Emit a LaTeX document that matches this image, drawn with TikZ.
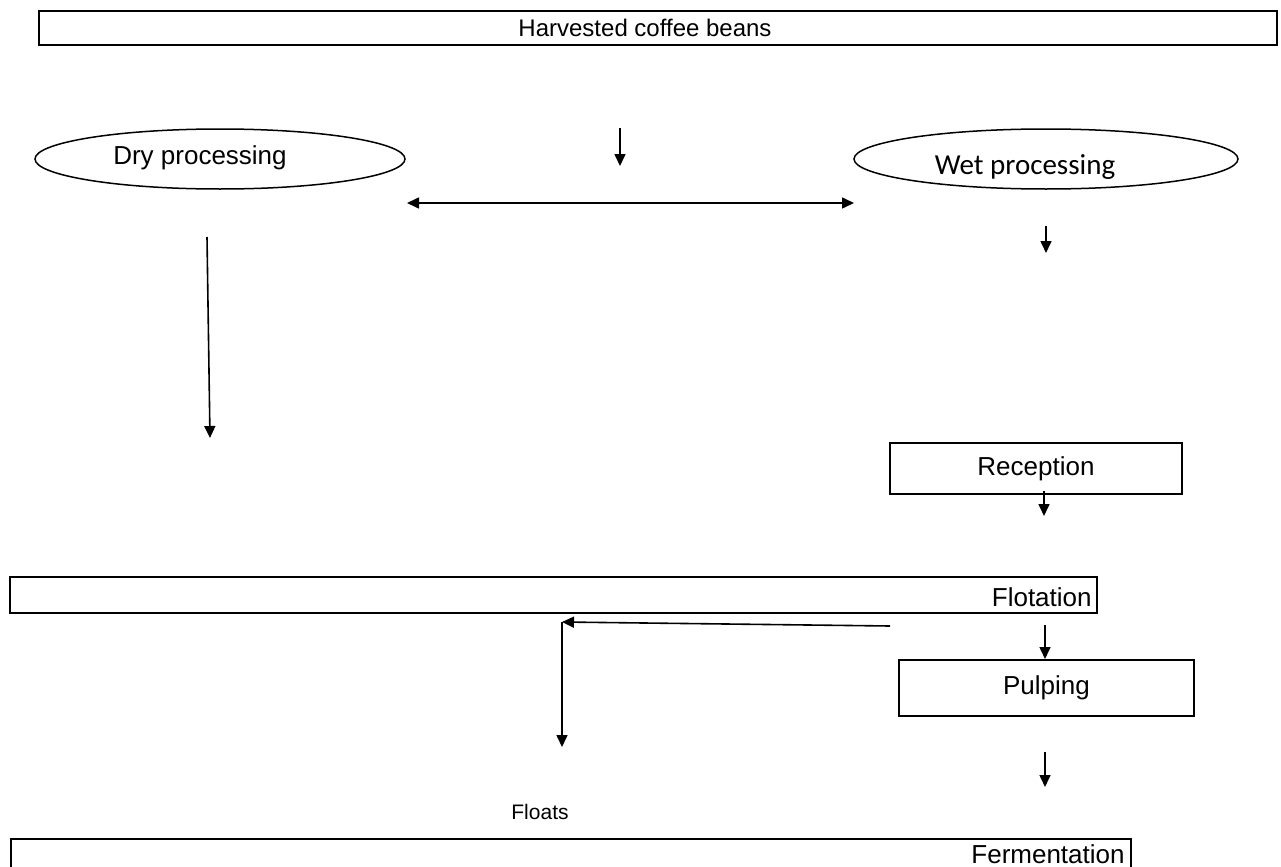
\documentclass[tikz,border=0pt]{standalone}
\usepackage{fontspec}
\setmainfont{Liberation Sans}
\newfontfamily\wetfont{Carlito}
\usetikzlibrary{arrows.meta,shapes.geometric,calc}
\begin{document}
\begin{tikzpicture}[x=0.5pt,y=-0.5pt,
  >={Triangle[length=6pt,width=5.5pt]},
  box/.style={draw, line width=1pt, rectangle, inner sep=0pt},
  oval/.style={draw, line width=0.75pt, ellipse, inner sep=0pt},
  lbl/.style={font=\fontsize{13}{15}\selectfont, inner sep=0pt},
  flow/.style={line width=0.8pt, ->},
]
\useasboundingbox (0,0) rectangle (1281,867);
\clip (0,0) rectangle (1281,867);

% boxes and ovals
\node[box, minimum width=619pt, minimum height=17pt] (harvest) at (658,28) {};
\node[lbl, font=\fontsize{12}{14}\selectfont] (harvestlabel) at (645,28) {Harvested coffee beans};
\node[oval, minimum width=185pt, minimum height=30pt] (dry) at (220,159) {};
\node[lbl] (drylabel) at (200,158) {Dry processing};
\node[oval, minimum width=192pt, minimum height=30pt] (wet) at (1046,159) {};
\node[lbl, font=\wetfont\fontsize{14.5}{16}\selectfont] (wetlabel) at (1025,167) {Wet processing};
\node[box, lbl, minimum width=146pt, minimum height=25.5pt] (reception) at (1036,468.5) {Reception};
\node[box, minimum width=543.5pt, minimum height=18pt] (flotation) at (553.5,595) {};
\node[lbl, anchor=east] (flotlabel) at (1092,597) {Flotation};
\node[box, lbl, minimum width=147.5pt, minimum height=28pt] (pulping) at (1046.5,688) {Pulping};
\node[box, minimum width=560pt, minimum height=40pt, anchor=north west] (fermentation) at (10,838) {};
\node[lbl, anchor=base east] (fermlabel) at (1125,863) {Fermentation};
\node[lbl, font=\fontsize{10.5}{12}\selectfont] (floats) at (540,812) {Floats};

% free ends of the connectors
\coordinate (splitTop) at (620,128);
\coordinate (splitEnd) at (620,166);
\coordinate (toDry) at (407,203);
\coordinate (toWet) at (854,203);
\coordinate (dryStart) at (207,237);
\coordinate (dryEnd) at (210,438);
\coordinate (wetStart) at (1046,226);
\coordinate (wetEnd) at (1046,253);
\coordinate (recEnd) at (1044,516);
\coordinate (floatSrc) at (890,626);
\coordinate (floatCorner) at (562,622);
\coordinate (floatEnd) at (562,747);
\coordinate (pulpIn) at (1045,625);
\coordinate (pulpOutStart) at (1045,752);
\coordinate (pulpOutEnd) at (1045,787);

% connectors
\draw[flow] (splitTop) -- (splitEnd);
\draw[flow, <->] (toDry) -- (toWet);
\draw[flow] (dryStart) -- (dryEnd);
\draw[flow] (wetStart) -- (wetEnd);
\draw[flow] ($(reception.south -| recEnd)+(0,-4)$) -- (recEnd);
\draw[flow] (floatSrc) -- (floatCorner);
\draw[flow] (floatCorner) -- (floatEnd);
\draw[flow] (pulpIn) -- (pulping.north -| pulpIn);
\draw[flow] (pulpOutStart) -- (pulpOutEnd);
\end{tikzpicture}
\end{document}
